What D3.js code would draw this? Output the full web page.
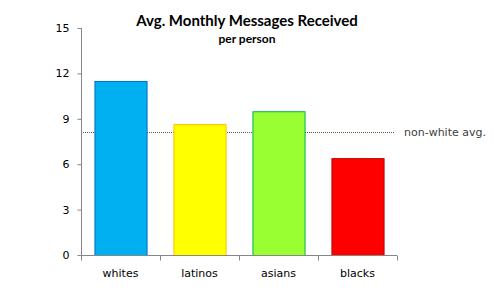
<!DOCTYPE html>
<html>
<head>
<meta charset="utf-8">
<script src="https://cdn.jsdelivr.net/npm/d3@7"></script>
<style>
    body { margin: 0; background: #fff; }
    text { font-family: "DejaVu Sans", sans-serif; }
</style>
</head>
<body>
<svg id="chart" width="494" height="288"></svg>
<script>
"use strict";

var groups = ["whites", "latinos", "asians", "blacks"],
    values = [11.5, 8.65, 9.5, 6.4],
    fills = ["#00b0f0", "#ffff00", "#99ff33", "#ff0000"],
    strokes = ["#0070c0", "#ffc000", "#00b050", "#c00000"],
    yTicks = [0, 3, 6, 9, 12, 15],
    nonWhiteAvg = 8.13;

var svg = d3.select("#chart"),
    margin = {left: 81, top: 28, right: 97, bottom: 33},
    width = 494 - margin.left - margin.right,
    height = 288 - margin.top - margin.bottom;

var x = d3.scaleBand().domain(groups).range([0, width])
        .paddingInner(0.34).paddingOuter(0.17),
    xb = d3.scaleBand().domain(groups).range([0, width]),  //for tick boundaries
    y = d3.scaleLinear().domain([0, 15]).range([height, 0]);

var g = svg.append("g")
    .attr("transform", "translate(" + margin.left + "," + margin.top + ")");

//non-white average line (behind the bars)
g.append("line")
    .attr("x1", 0)
    .attr("x2", width - 2)
    .attr("y1", Math.round(y(nonWhiteAvg)) + 0.5)
    .attr("y2", Math.round(y(nonWhiteAvg)) + 0.5)
    .attr("stroke", "#5f5f3f")
    .attr("stroke-width", 1)
    .attr("stroke-dasharray", "1,1");
g.append("text")
    .attr("x", width + 7)
    .attr("y", y(nonWhiteAvg))
    .attr("dy", "0.35em")
    .attr("font-size", 11)
    .attr("fill", "#404040")
    .text("non-white avg.");

//bars
g.selectAll("rect.bar")
    .data(groups)
    .enter().append("rect")
    .attr("class", "bar")
    .attr("x", function (d) { return x(d) + 0.5; })
    .attr("y", function (d, i) { return y(values[i]) + 0.5; })
    .attr("width", x.bandwidth())
    .attr("height", function (d, i) { return y(0) - y(values[i]); })
    .attr("fill", function (d, i) { return fills[i]; })
    .attr("stroke", function (d, i) { return strokes[i]; })
    .attr("stroke-width", 1);

//y axis
var yAxis = g.append("g")
    .attr("transform", "translate(0.5,0)")
    .call(d3.axisLeft(y).tickValues(yTicks).tickSize(4).tickPadding(8));
yAxis.selectAll("text").attr("font-size", 11).attr("fill", "#000")
    .style("font-family", "DejaVu Sans, sans-serif");
yAxis.select(".domain").attr("stroke", "#868686")
    .attr("d", "M0," + y(15) + "V" + y(0));
yAxis.selectAll(".tick line").attr("stroke", "#868686");

//x axis
var xAxisG = g.append("g")
    .attr("transform", "translate(0," + (height + 0.5) + ")");
xAxisG.append("line")
    .attr("x1", 0).attr("x2", width)
    .attr("stroke", "#868686");
xAxisG.selectAll("line.tick")
    .data(groups.concat(["end"]))
    .enter().append("line")
    .attr("class", "tick")
    .attr("x1", function (d, i) { return Math.round(i * xb.step()) + 0.5; })
    .attr("x2", function (d, i) { return Math.round(i * xb.step()) + 0.5; })
    .attr("y1", 0).attr("y2", 5)
    .attr("stroke", "#868686");
xAxisG.selectAll("text")
    .data(groups)
    .enter().append("text")
    .attr("x", function (d) { return x(d) + x.bandwidth() / 2; })
    .attr("y", 21)
    .attr("text-anchor", "middle")
    .attr("font-size", 11)
    .attr("fill", "#000")
    .text(function (d) { return d; });

//titles
svg.append("text")
    .attr("x", 247)
    .attr("y", 26)
    .attr("text-anchor", "middle")
    .attr("font-size", 15)
    .attr("font-weight", "bold")
    .style("font-family", "Lato, 'Open Sans', sans-serif")
    .text("Avg. Monthly Messages Received");
svg.append("text")
    .attr("x", 247)
    .attr("y", 43)
    .attr("text-anchor", "middle")
    .attr("font-size", 12)
    .attr("font-weight", "bold")
    .style("font-family", "Lato, 'Open Sans', sans-serif")
    .text("per person");
</script>
</body>
</html>
